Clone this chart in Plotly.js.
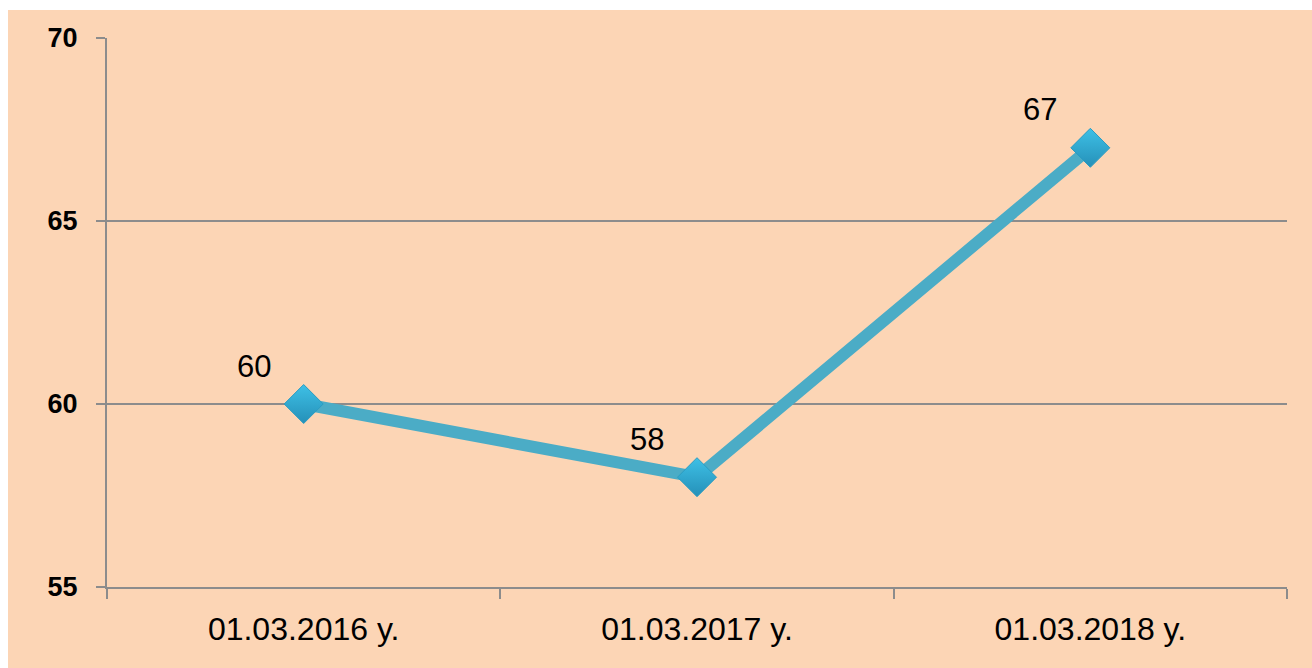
<!DOCTYPE html>
<html>
<head>
<meta charset="utf-8">
<script src="https://cdn.plot.ly/plotly-3.0.1.min.js"></script>
<style>
  html, body { margin: 0; padding: 0; background: #ffffff; width: 1312px; height: 668px; overflow: hidden; }
  #chart { position: absolute; left: 8px; top: 10px; width: 1304px; height: 658px; }
</style>
</head>
<body>
<div id="chart"></div>
<script>
const categories = ["01.03.2016 y.", "01.03.2017 y.", "01.03.2018 y."];
const values = [60, 58, 67];
const yTicks = [55, 60, 65, 70];

const trace = {
  type: "scatter",
  mode: "lines+markers",
  x: categories,
  y: values,
  line: { color: "#4BACC6", width: 12 },
  marker: {
    symbol: "diamond",
    size: 30,
    color: "#3EC0E6",
    gradient: { type: "vertical", color: "#2590B8" },
    line: { color: "#2A9CC2", width: 1 }
  },
  hoverinfo: "skip",
  cliponaxis: false
};

const annotations = categories.map((c, i) => ({
  x: c, y: values[i], xref: "x", yref: "y",
  text: String(values[i]),
  showarrow: false,
  xshift: -50, yshift: 38,
  font: { family: "Liberation Sans, Arial, sans-serif", size: 31, color: "#000000" }
}));

const layout = {
  width: 1304, height: 658,
  margin: { l: 99, r: 25, t: 28, b: 81 },
  paper_bgcolor: "#FCD5B5",
  plot_bgcolor: "#FCD5B5",
  showlegend: false,
  font: { family: "Liberation Sans, Arial, sans-serif", color: "#000000" },
  xaxis: {
    type: "category",
    range: [-0.5, 2.5],
    tickson: "boundaries",
    ticks: "outside", ticklen: 10, tickwidth: 2, tickcolor: "#8C8C8C",
    showline: true, linecolor: "#8C8C8C", linewidth: 2,
    showgrid: false, zeroline: false,
    tickfont: { size: 32, color: "#000000" },
    ticklabelstandoff: 13
  },
  yaxis: {
    range: [55, 70],
    tickvals: yTicks,
    ticktext: yTicks.map(String),
    ticks: "outside", ticklen: 9, tickwidth: 2, tickcolor: "#8C8C8C",
    showline: true, linecolor: "#8C8C8C", linewidth: 2,
    showgrid: true, gridcolor: "#8C8C8C", gridwidth: 1.5,
    zeroline: false,
    tickfont: { size: 27, color: "#000000", weight: "bold" },
    ticklabelstandoff: 13
  },
  annotations: annotations
};

Plotly.newPlot("chart", [trace], layout, { displayModeBar: false, staticPlot: true });
</script>
</body>
</html>
